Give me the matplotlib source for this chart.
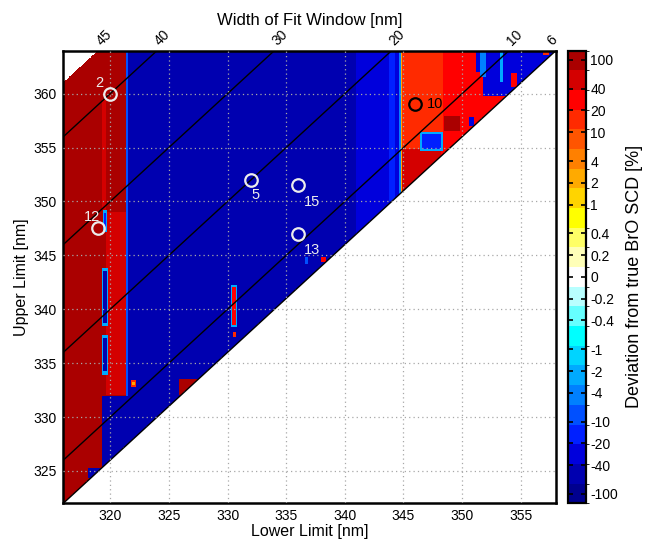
import numpy as np
import matplotlib
matplotlib.use('Agg')
import matplotlib.pyplot as plt
from matplotlib.colors import ListedColormap, BoundaryNorm

plt.rcParams['font.family'] = ['Liberation Sans', 'DejaVu Sans']

# ---------------- data ----------------
lower_range = (316, 358)
upper_range = (322, 364)
min_width, max_width = 6, 45

x_ticks = [320, 325, 330, 335, 340, 345, 350, 355]
y_ticks = [325, 330, 335, 340, 345, 350, 355, 360]
width_lines = [6, 10, 20, 30, 40]
width_labels = [45, 40, 30, 20, 10, 6]

cbar_values = [-100, -40, -20, -10, -4, -2, -1, -0.4, -0.2, 0,
               0.2, 0.4, 1, 2, 4, 10, 20, 40, 100]
cbar_labels = ['-100', '-40', '-20', '-10', '-4', '-2', '-1', '-0.4', '-0.2', '0',
               '0.2', '0.4', '1', '2', '4', '10', '20', '40', '100']
cbar_colors = ['#00008f', '#0000b0', '#0000dc', '#0020ff', '#0050ff', '#0080ff',
               '#00aaff', '#00d4ff', '#00ffff', '#66ffff', '#b8ffff', '#ffffff',
               '#ffffb8', '#ffff66', '#ffff00', '#ffd400', '#ffaa00', '#ff8000',
               '#ff5500', '#ff2a00', '#ff0000', '#d40000', '#aa0000']

base_value = -50  # deviation [%] of the main field

# rectangular regions of deviation [%]: lower0, lower1, upper0, upper1, value
patch_lower0 = [341.0, 343.8, 344.6, 344.8, 316.0, 316.0, 321.4, 319.7, 319.3,
                319.35, 319.45, 319.35, 319.45, 319.4, 319.5, 318.1, 321.8, 321.9,
                325.9, 330.3, 330.4, 330.5, 336.6, 338.0,
                344.9, 344.9, 344.9, 348.5, 346.4, 346.6, 351.2, 351.2,
                351.5, 353.2, 354.2, 356.9, 350.6]
patch_lower1 = [358.0, 344.3, 344.8, 344.9, 321.4, 319.3, 321.5, 321.4, 319.7,
                319.85, 319.75, 319.85, 319.75, 319.75, 319.7, 319.3, 322.2, 322.1,
                327.5, 330.85, 330.75, 330.7, 336.9, 338.4,
                351.2, 348.4, 348.2, 349.8, 348.4, 348.2, 354.6, 351.8,
                352.0, 353.5, 354.7, 357.4, 351.0]
patch_upper0 = [322.0, 350.0, 350.0, 350.0, 331.9, 322.0, 331.9, 332.0, 349.2,
                338.4, 338.7, 333.9, 334.2, 347.1, 347.4, 324.3, 332.8, 332.95,
                332.0, 338.3, 338.5, 337.4, 344.2, 344.3,
                322.0, 354.8, 322.0, 356.5, 354.6, 354.8, 322.0, 359.7,
                361.5, 361.0, 360.6, 363.5, 357.0]
patch_upper1 = [364.0, 364.0, 364.0, 364.0, 364.0, 331.9, 364.0, 349.0, 359.5,
                343.8, 343.5, 337.6, 337.3, 349.2, 348.9, 325.2, 333.4, 333.25,
                333.5, 342.2, 342.0, 337.9, 344.8, 344.8,
                364.0, 364.0, 354.8, 357.9, 356.4, 356.2, 359.7, 362.0,
                364.0, 364.0, 361.9, 364.0, 357.8]
patch_value = [-25, -12, -4, 3, 100, 100, -6, 50, 50,
               -3, -50, -3, -50, -3, -20, -50, 20, 3,
               100, -3, 30, 20, -8, 30,
               30, 15, 60, 100, -2, -15, 30, 30,
               -4, -3, 30, 20, -30]

circle_lower = [320, 319, 332, 336, 336, 346]
circle_upper = [360, 347.5, 352, 351.5, 347, 359]
circle_names = ['2', '12', '5', '15', '13', '10']
circle_dark = [False, False, False, False, False, True]
circle_label_offsets = [(-8, 8), (-5, 8), (3, -11), (10, -12), (10, -12), (14, 0)]

# ---------------- build field ----------------
res = 0.05
lx = np.arange(lower_range[0], lower_range[1], res) + res / 2
uy = np.arange(upper_range[0], upper_range[1], res) + res / 2
L, U = np.meshgrid(lx, uy)
field = np.full(L.shape, float(base_value))
for l0, l1, u0, u1, v in zip(patch_lower0, patch_lower1, patch_upper0,
                             patch_upper1, patch_value):
    field[(L >= l0) & (L < l1) & (U >= u0) & (U < u1)] = v
W = U - L
outside = (W < min_width) | (W > max_width)


def to_t(v):
    v = np.asarray(v, dtype=float)
    a = np.abs(v)
    return np.where(a > 0.1, np.sign(v) * np.log10(np.maximum(a, 1e-9) / 0.1), 0.0)


t_field = np.ma.masked_array(to_t(field), mask=outside)

n_bins = len(cbar_colors)
t_max = 3.13
edges = np.linspace(-t_max, t_max, n_bins + 1)
cmap = ListedColormap(cbar_colors)
cmap.set_bad('white')
norm = BoundaryNorm(edges, n_bins)

# ---------------- figure ----------------
fig = plt.figure(figsize=(6.53, 5.41), dpi=100)
ax = fig.add_axes([63.3 / 653, 1 - 503.3 / 541, (556 - 63.3) / 653, (503.3 - 50.5) / 541])
ax.imshow(t_field, extent=(lower_range[0], lower_range[1], upper_range[0], upper_range[1]),
          origin='lower', aspect='auto', cmap=cmap, norm=norm, interpolation='nearest',
          zorder=0)

xs = np.array(lower_range, dtype=float)
for w in width_lines:
    ax.plot(xs, xs + w, color='black', lw=1.0, zorder=1)

for cl, cu, name, dark, off in zip(circle_lower, circle_upper, circle_names,
                                   circle_dark, circle_label_offsets):
    col = 'black' if dark else '#ececec'
    ax.plot([cl], [cu], marker='o', ms=9, mfc='none', mec=col, mew=1.6, zorder=3)
    ax.annotate(name, (cl, cu), xytext=off, textcoords='offset points',
                ha='center', va='center', color=col, fontsize=10.5, zorder=4)

ax.set_xlim(*lower_range)
ax.set_ylim(*upper_range)
ax.set_xticks(x_ticks)
ax.set_yticks(y_ticks)
ax.tick_params(length=0, labelsize=10)
ax.tick_params(axis='x', pad=4)
ax.tick_params(axis='y', pad=5)
ax.grid(True, color='#a8a8a8', linestyle=(0, (1, 2.5)), lw=0.9)
ax.set_axisbelow(False)
for sp in ax.spines.values():
    sp.set_linewidth(1.8)
ax.set_xlabel('Lower Limit [nm]', fontsize=11.5, labelpad=1)
ax.set_ylabel('Upper Limit [nm]', fontsize=11.5, labelpad=3)

for w in width_labels:
    xw = min(upper_range[1] - w, lower_range[1] - 0.8)
    ax.annotate(str(w), (xw, upper_range[1]), xytext=(4, 2),
                textcoords='offset points', rotation=45, ha='center', va='bottom',
                fontsize=10, annotation_clip=False)
fig.text((63.3 + 556) / 2 / 653, 1 - 20 / 541, 'Width of Fit Window [nm]',
         ha='center', va='center', fontsize=12)

# ---------------- colorbar ----------------
cax = fig.add_axes([568 / 653, 1 - 503.3 / 541, 18 / 653, (503.3 - 50.5) / 541])
sm = plt.cm.ScalarMappable(norm=norm, cmap=cmap)
cb = fig.colorbar(sm, cax=cax, boundaries=edges, ticks=to_t(cbar_values))
cb.set_ticklabels(cbar_labels)
cb.outline.set_linewidth(1.6)
cax.tick_params(direction='in', left=True, right=True, length=3.5, width=1.2,
                labelsize=10, pad=3)
cb.set_label('Deviation from true BrO SCD [%]', fontsize=13, labelpad=6)

fig.savefig('out.png', dpi=100)
